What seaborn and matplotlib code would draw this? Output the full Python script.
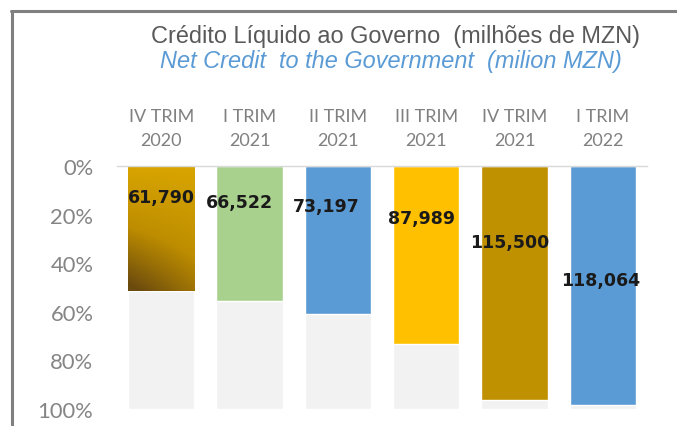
import numpy as np
import pandas as pd
import matplotlib
matplotlib.use("Agg")
import matplotlib.pyplot as plt
from matplotlib.colors import LinearSegmentedColormap
import seaborn as sns

# ---- data ----
categories = ["IV TRIM\n2020", "I TRIM\n2021", "II TRIM\n2021", "III TRIM\n2021", "IV TRIM\n2021", "I TRIM\n2022"]
values = [61790, 66522, 73197, 87989, 115500, 118064]
scale_max = 120000
bar_colors = ["#C49300", "#A9D18E", "#5B9BD5", "#FFC000", "#BF9000", "#5B9BD5"]
ytick_vals = [0, 20, 40, 60, 80, 100]
ytick_labels = ["0%", "20%", "40%", "60%", "80%", "100%"]

# label layout (positions in axis %, x offsets in category units)
label_y = [12.8, 14.8, 16.5, 21.4, 31.3, 46.9]
label_dx = [0.0, -0.11, -0.13, -0.05, -0.05, -0.02]

df = pd.DataFrame({
    "cat": categories,
    "pct": [v / scale_max * 100 for v in values],
    "full": [100] * len(categories),
})

sns.set_theme(style="white")
plt.rcParams["font.family"] = ["Liberation Sans", "DejaVu Sans"]

fig = plt.figure(figsize=(6.77, 4.27), dpi=100)
ax = fig.add_axes([117 / 677, 1 - 410 / 427, 530 / 677, 243 / 427])

sns.barplot(data=df, x="cat", y="full", color="#F2F2F2", width=0.75, ax=ax,
            saturation=1, order=categories)
n_bg = len(ax.patches)
sns.barplot(data=df, x="cat", y="pct", hue="cat", palette=bar_colors, width=0.75,
            ax=ax, saturation=1, legend=False, order=categories, hue_order=categories)

ax.set_xlim(-0.5, len(categories) - 0.5)
ax.set_ylim(100, 0)

# gradient on the first coloured bar
first = ax.patches[n_bg]
x0, y0 = first.get_x(), first.get_y()
w, h = first.get_width(), first.get_height()
ny, nx = 200, 60
yy, xx = np.mgrid[0:1:ny * 1j, 0:1:nx * 1j]
t = np.clip(0.7 * yy + 0.35 * (1 - xx) * yy, 0, 1)
cmap = LinearSegmentedColormap.from_list("g", ["#D8A500", "#BF8E00", "#6A4A0E"])
im = ax.imshow(t, cmap=cmap, extent=[x0, x0 + w, y0 + h, y0], aspect="auto",
               zorder=first.get_zorder() + 0.1, vmin=0, vmax=1)
im.set_clip_path(first)
ax.set_xlim(-0.5, len(categories) - 0.5)
ax.set_ylim(100, 0)

# value labels
for i, v in enumerate(values):
    ax.text(i + label_dx[i], label_y[i], f"{v:,}", ha="center", va="center",
            fontsize=12.5, fontweight="bold", color="#1A1A1A",
            family=["DejaVu Sans"], zorder=10)

# axes styling
ax.xaxis.tick_top()
ax.set_xticks(range(len(categories)))
ax.set_xticklabels(categories, fontsize=13, color="#808080", family=["Lato", "DejaVu Sans"],
                   linespacing=1.6)
ax.tick_params(axis="x", length=0, pad=13)
ax.set_yticks(ytick_vals)
ax.set_yticklabels(ytick_labels, fontsize=15.8, color="#858585", family=["Lato", "DejaVu Sans"])
ax.tick_params(axis="y", length=0, pad=17)
ax.set_xlabel("")
ax.set_ylabel("")
for s in ["left", "right", "bottom"]:
    ax.spines[s].set_visible(False)
ax.spines["top"].set_color("#D9D9D9")
ax.spines["top"].set_linewidth(1.0)

# titles
fig.text(396 / 677, 1 - 37 / 427, "Crédito Líquido ao Governo  (milhões de MZN)",
         ha="center", va="center", fontsize=16.9, color="#595959")
fig.text(391 / 677, 1 - 62 / 427, "Net Credit  to the Government  (milion MZN)",
         ha="center", va="center", fontsize=16.9, color="#5B9BD5", style="italic")

# frame lines (left and top)
fig.add_artist(plt.Line2D([12 / 677, 12 / 677], [0, 1 - 12 / 427], color="#808080",
                          linewidth=2.2, transform=fig.transFigure))
fig.add_artist(plt.Line2D([11 / 677, 1], [1 - 12 / 427, 1 - 12 / 427], color="#808080",
                          linewidth=2.2, transform=fig.transFigure))

fig.savefig("out.png", dpi=100)
